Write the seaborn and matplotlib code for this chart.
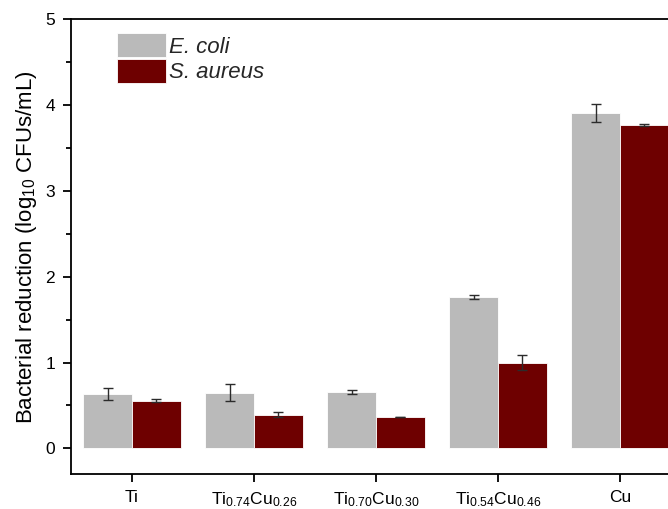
import matplotlib
matplotlib.use("Agg")
import matplotlib.pyplot as plt
import seaborn as sns
import pandas as pd
from matplotlib.ticker import MultipleLocator
from matplotlib.patches import Patch

# Samples and bacterial reduction (log10 CFUs/mL), mean and error
samples = ["Ti", "Ti0.74Cu0.26", "Ti0.70Cu0.30", "Ti0.54Cu0.46", "Cu"]
tick_labels = [
    "Ti",
    r"Ti$\mathregular{_{0.74}}$Cu$\mathregular{_{0.26}}$",
    r"Ti$\mathregular{_{0.70}}$Cu$\mathregular{_{0.30}}$",
    r"Ti$\mathregular{_{0.54}}$Cu$\mathregular{_{0.46}}$",
    "Cu",
]
strains = ["E. coli", "S. aureus"]
ecoli = [0.63, 0.65, 0.655, 1.76, 3.91]
ecoli_err = [0.07, 0.10, 0.025, 0.023, 0.105]
saureus = [0.555, 0.39, 0.36, 1.00, 3.77]
saureus_err = [0.02, 0.03, 0.0, 0.09, 0.008]

colors = ["#BABABA", "#6E0000"]

sns.set_theme(style="ticks")
plt.rcParams["font.family"] = ["Liberation Sans", "DejaVu Sans"]
plt.rcParams["mathtext.fontset"] = "custom"
plt.rcParams["mathtext.rm"] = "Liberation Sans"
plt.rcParams["mathtext.it"] = "Liberation Sans:italic"

df = pd.DataFrame({
    "Sample": samples * 2,
    "Strain": [strains[0]] * len(samples) + [strains[1]] * len(samples),
    "Reduction": ecoli + saureus,
})

fig = plt.figure(figsize=(6.68, 5.09), dpi=100)
ax = fig.add_axes([0.1063, 0.0688, 0.9132, 0.8929])

sns.barplot(data=df, x="Sample", y="Reduction", hue="Strain", order=samples,
            hue_order=strains, palette=colors, errorbar=None, width=0.8,
            saturation=1, edgecolor="white", linewidth=0.6, legend=False, ax=ax)

# error bars at the centre of each bar
for cont, err in zip(ax.containers, [ecoli_err, saureus_err]):
    xs = [b.get_x() + b.get_width() / 2 for b in cont]
    ys = [b.get_height() for b in cont]
    ax.errorbar(xs, ys, yerr=err, fmt="none", ecolor="#2b2b2b",
                elinewidth=1.0, capsize=3.3, capthick=1.0, zorder=5)

ax.set_xlim(-0.5, 4.5)
ax.set_ylim(-0.3, 5)
ax.yaxis.set_major_locator(MultipleLocator(1))
ax.yaxis.set_minor_locator(MultipleLocator(0.5))
ax.set_xticks(range(len(samples)))
ax.set_xticklabels(tick_labels)

for side in ["left", "bottom", "top"]:
    ax.spines[side].set_visible(True)
    ax.spines[side].set_linewidth(1.3)
    ax.spines[side].set_color("black")
ax.spines["right"].set_visible(False)

ax.tick_params(axis="both", which="major", direction="out", length=6.0,
               width=1.3, color="black", labelsize=12.5, labelcolor="black", pad=5.5)
ax.tick_params(axis="y", which="minor", direction="out", length=3.4,
               width=1.3, color="black")
ax.tick_params(axis="x", which="minor", bottom=False)

ax.set_xlabel("")
ax.set_ylabel(r"Bacterial reduction (log$\mathregular{_{10}}$ CFUs/mL)",
              fontsize=16, color="black", labelpad=4.5)

handles = [Patch(facecolor=c, edgecolor="white", linewidth=0.6) for c in colors]
leg = ax.legend(handles, strains, loc="upper left", bbox_to_anchor=(0.0754, 0.97),
                frameon=False, handlelength=2.2, handleheight=1.3,
                handletextpad=0.12, labelspacing=0.05, borderaxespad=0,
                borderpad=0, prop={"size": 16, "style": "italic"})

fig.savefig("out.png", dpi=100)
